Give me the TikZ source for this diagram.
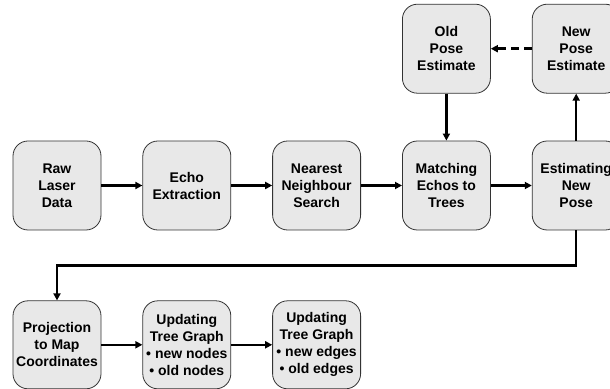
\documentclass[tikz,border=0pt]{standalone}
\usepackage{fontspec}
\setmainfont{Liberation Sans}
\usetikzlibrary{positioning,arrows.meta}
\tikzset{
  stage/.style={draw=black!80,line width=0.8pt,fill=black!9,rounded corners=15pt,
    minimum width=88pt,minimum height=89pt,inner sep=1pt,align=center,
    font=\fontsize{14}{17}\selectfont\bfseries},
  flow/.style={line width=2.4pt,-{Triangle[length=7pt,width=7pt]}}
}
\begin{document}
\begin{tikzpicture}[x=1pt,y=1pt,node distance=41pt]
  \useasboundingbox (0,0) rectangle (610,388);
  % middle row
  \node[stage] (raw) at (57,202.5) {Raw\\Laser\\Data};
  \node[stage,right=of raw] (echo) {Echo\\Extraction};
  \node[stage,right=of echo] (nn) {Nearest\\Neighbour\\Search};
  \node[stage,right=of nn] (match) {Matching\\Echos to\\Trees};
  \node[stage,right=of match] (est) {Estimating\\New\\Pose};
  % top row
  \node[stage,above=47pt of match] (oldpose) {Old\\Pose\\Estimate};
  \node[stage,above=47pt of est] (newpose) {New\\Pose\\Estimate};
  % bottom row
  \node[stage,below=70pt of raw,minimum height=88pt] (proj) {Projection\\to Map\\Coordinates};
  \node[stage,right=of proj,minimum height=88pt] (upnodes) {Updating\\Tree Graph\\\textbullet{} new nodes\\\textbullet{} old nodes};
  \node[stage,right=of upnodes,minimum height=88pt] (upedges) {Updating\\Tree Graph\\\textbullet{} new edges\\\textbullet{} old edges};
  % connectors
  \draw[flow] (raw) -- (echo);
  \draw[flow] (echo) -- (nn);
  \draw[flow] (nn) -- (match);
  \draw[flow] (match) -- (est);
  \draw[flow] (oldpose) -- (match);
  \draw[flow] (est) -- (newpose);
  \draw[flow,dash pattern=on 8pt off 5pt] (newpose) -- (oldpose);
  \draw[flow] (est.south) -- ++(0,-35) -| (proj.north);
  \draw[flow] (proj) -- (upnodes);
  \draw[flow] (upnodes) -- (upedges);
\end{tikzpicture}
\end{document}
